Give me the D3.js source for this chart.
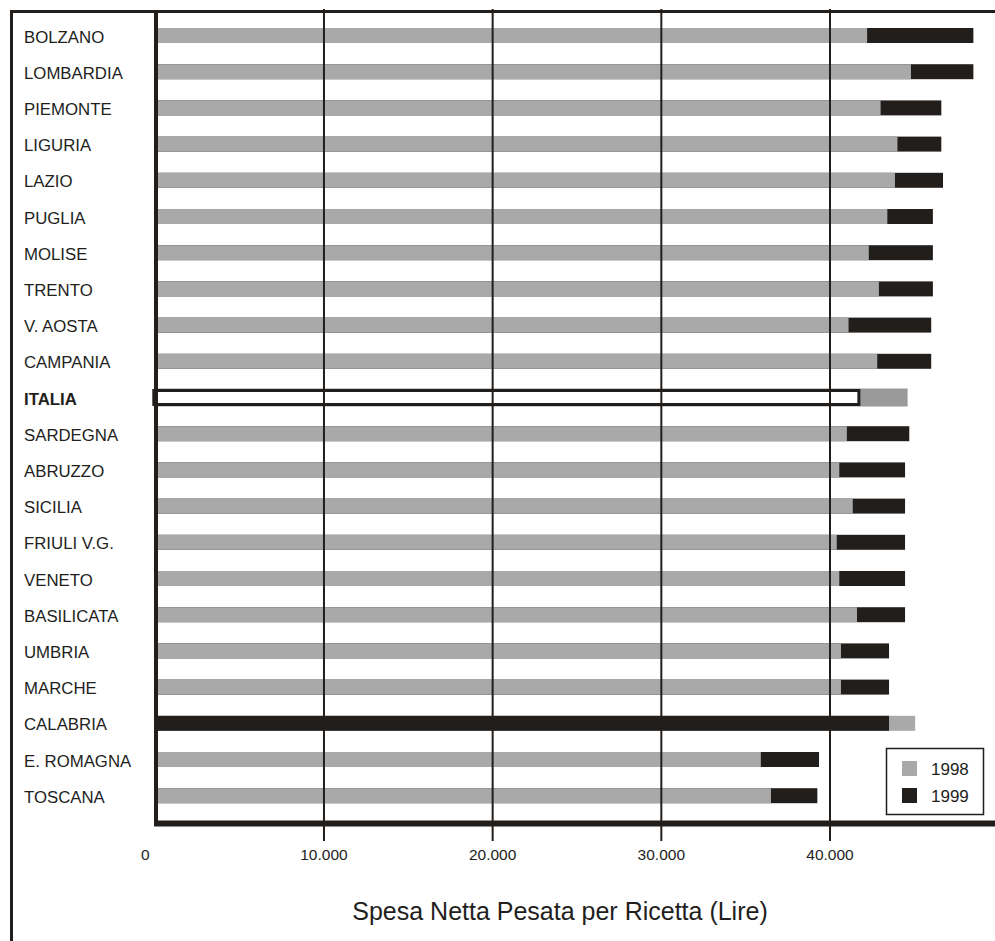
<!DOCTYPE html>
<html>
<head>
<meta charset="utf-8">
<script src="https://cdn.jsdelivr.net/npm/d3@7"></script>
<style>
  html, body { margin: 0; padding: 0; background: #fff; }
  svg { display: block; font-family: Arial, "Liberation Sans", sans-serif; }
</style>
</head>
<body>
<svg id="chart" width="995" height="941"></svg>
<script>
// Spesa netta pesata per ricetta (Lire), per regione
const regions = ["BOLZANO", "LOMBARDIA", "PIEMONTE", "LIGURIA", "LAZIO", "PUGLIA", "MOLISE",
  "TRENTO", "V. AOSTA", "CAMPANIA", "ITALIA", "SARDEGNA", "ABRUZZO", "SICILIA", "FRIULI V.G.",
  "VENETO", "BASILICATA", "UMBRIA", "MARCHE", "CALABRIA", "E. ROMAGNA", "TOSCANA"];
const values1998 = [42200, 44800, 43000, 44000, 43850, 43400, 42300, 42900, 41100, 42800, 44600,
  41000, 40550, 41350, 40400, 40550, 41600, 40650, 40650, 45050, 35900, 36500];
const values1999 = [48500, 48500, 46600, 46600, 46700, 46100, 46100, 46100, 46000, 46000, 41800,
  44700, 44450, 44450, 44450, 44450, 44450, 43500, 43500, 43500, 39350, 39250];
const xTicks = [0, 10000, 20000, 30000, 40000];
const seriesNames = ["1998", "1999"];
const totalLabel = "ITALIA";

const INK = "#221e1c", GREY = "#a9a9a9", GREY_TOTAL = "#9a9a9a";

const svg = d3.select("#chart");
const fmt = d3.formatLocale({decimal: ",", thousands: ".", grouping: [3], currency: ["", ""]}).format(",");

const x = d3.scaleLinear().domain([0, 40000]).range([155.3, 830]);
const y = d3.scaleBand().domain(regions).range([17.4, 813.8]).paddingInner(0.586).paddingOuter(0.293);

const rows = regions.map((r, i) => ({region: r, v98: values1998[i], v99: values1999[i]}));

// bars: the longer year sits behind, the shorter one in front
const g = svg.append("g");
rows.forEach(d => {
  const cy = y(d.region) + y.bandwidth() / 2;
  const isTotal = d.region === totalLabel;
  const segs = [
    {v: d.v98, fill: isTotal ? GREY_TOTAL : GREY, year: "1998"},
    {v: d.v99, fill: INK, year: "1999"}
  ].sort((a, b) => b.v - a.v);
  segs.forEach(s => {
    if (isTotal && s.year === "1999") {
      g.append("rect")
        .attr("x", x(0) - 1.5).attr("y", cy - 7)
        .attr("width", x(s.v) - x(0)).attr("height", 14)
        .attr("fill", "#fff").attr("stroke", INK).attr("stroke-width", 3);
    } else {
      const h = isTotal ? 18 : y.bandwidth();
      g.append("rect")
        .attr("x", x(0)).attr("y", cy - h / 2)
        .attr("width", x(s.v) - x(0)).attr("height", h)
        .attr("fill", s.fill);
    }
  });
});

// vertical gridlines, running past the baseline as tick marks
xTicks.filter(t => t > 0).forEach(t => {
  svg.append("line")
    .attr("x1", x(t)).attr("x2", x(t)).attr("y1", 9).attr("y2", 841)
    .attr("stroke", INK).attr("stroke-width", 2);
});

// frame
svg.append("line").attr("x1", 10).attr("x2", 995).attr("y1", 11.5).attr("y2", 11.5)
  .attr("stroke", INK).attr("stroke-width", 3);
svg.append("line").attr("x1", 11.5).attr("x2", 11.5).attr("y1", 10).attr("y2", 941)
  .attr("stroke", INK).attr("stroke-width", 3);
svg.append("line").attr("x1", 156).attr("x2", 156).attr("y1", 10).attr("y2", 826)
  .attr("stroke", INK).attr("stroke-width", 4);
svg.append("line").attr("x1", 154).attr("x2", 995).attr("y1", 823.5).attr("y2", 823.5)
  .attr("stroke", INK).attr("stroke-width", 6);

// region labels
svg.append("g").selectAll("text").data(rows).join("text")
  .attr("x", 24)
  .attr("y", d => y(d.region) + y.bandwidth() / 2 + 7)
  .attr("font-size", 16.8)
  .attr("font-weight", d => d.region === totalLabel ? "bold" : "normal")
  .attr("fill", INK)
  .text(d => d.region);

// x tick labels
svg.append("g").selectAll("text").data(xTicks).join("text")
  .attr("x", d => x(d) - (d === 0 ? 10 : 0))
  .attr("y", 860)
  .attr("text-anchor", "middle")
  .attr("font-size", 15.5)
  .attr("fill", INK)
  .text(d => fmt(d));

// axis title
svg.append("text")
  .attr("x", 560).attr("y", 920)
  .attr("text-anchor", "middle")
  .attr("font-size", 25)
  .attr("fill", INK)
  .text("Spesa Netta Pesata per Ricetta (Lire)");

// legend
const lg = svg.append("g");
lg.append("rect").attr("x", 886.5).attr("y", 748.5).attr("width", 97).attr("height", 66)
  .attr("fill", "#fff").attr("stroke", INK).attr("stroke-width", 1.5);
[GREY, INK].forEach((c, i) => {
  lg.append("rect").attr("x", 902).attr("y", 761 + i * 27).attr("width", 15).attr("height", 15).attr("fill", c);
  lg.append("text").attr("x", 931).attr("y", 775 + i * 26.5)
    .attr("font-size", 17).attr("fill", INK).text(seriesNames[i]);
});
</script>
</body>
</html>
